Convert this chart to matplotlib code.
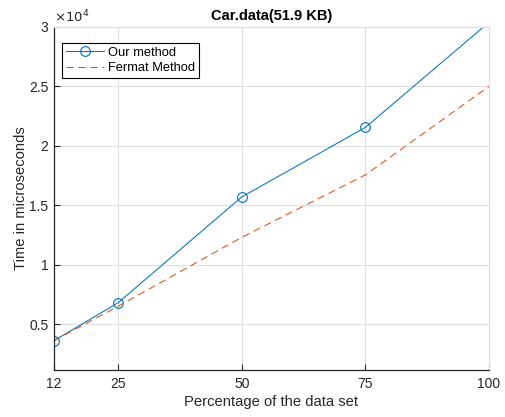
import matplotlib
matplotlib.use("Agg")
import matplotlib.pyplot as plt
from matplotlib.ticker import FuncFormatter

plt.rcParams['font.family'] = ['Liberation Sans', 'DejaVu Sans']

percent = [12, 25, 50, 75, 100]
our_method = [3600, 6800, 15700, 21550, 30400]
fermat = [3600, 6500, 12300, 17550, 25000]
x_ticks = [12, 25, 50, 75, 100]
y_ticks = [5000, 10000, 15000, 20000, 25000, 30000]

blue = '#0072BD'
orange = '#D95319'
axc = '#262626'

fig = plt.figure(figsize=(5.06, 4.17), dpi=100)
ax = fig.add_axes([54/506, 47/417, 435/506, 343/417])

ax.plot(percent, our_method, '-o', color=blue, lw=0.75, markersize=7,
        markerfacecolor='none', markeredgewidth=0.8, label='Our method')
ax.plot(percent, fermat, '--', color=orange, lw=0.75, dashes=(7, 4.5),
        label='Fermat Method')

ax.set_xlim(12, 100)
ax.set_ylim(1130, 30000)
ax.set_xticks(x_ticks)
ax.set_yticks(y_ticks)
ax.yaxis.set_major_formatter(FuncFormatter(lambda v, p: ('%g' % (v / 1e4))))

ax.grid(True, color='#dfdfdf', lw=0.8)
ax.set_axisbelow(True)
for s in ['top', 'right']:
    ax.spines[s].set_color('#dfdfdf')
for s in ['left', 'bottom']:
    ax.spines[s].set_color(axc)
    ax.spines[s].set_linewidth(0.9)
ax.tick_params(direction='in', length=4, width=0.8, colors=axc,
               labelsize=10, pad=4, top=False, right=False)
ax.tick_params(axis='x', pad=5)

ax.set_title('Car.data(51.9 KB)', fontsize=10.5, fontweight='bold', color='black', pad=5)
ax.set_xlabel('Percentage of the data set', fontsize=10.6, color=axc, labelpad=3)
ax.set_ylabel('Time in microseconds', fontsize=10.6, color=axc, labelpad=1)
ax.text(0.0, 1.005, r'$\times10^4$', transform=ax.transAxes, fontsize=9.5,
        color=axc, ha='left', va='bottom')

leg = ax.legend(loc='upper left', bbox_to_anchor=(0.004, 0.972), fontsize=9.3,
                frameon=True, fancybox=False, edgecolor='black', framealpha=1,
                handlelength=2.9, borderpad=0.3, labelspacing=0.25, handletextpad=0.35,
                borderaxespad=0.5)
leg.get_frame().set_linewidth(0.8)

fig.savefig('out.png', dpi=100)
